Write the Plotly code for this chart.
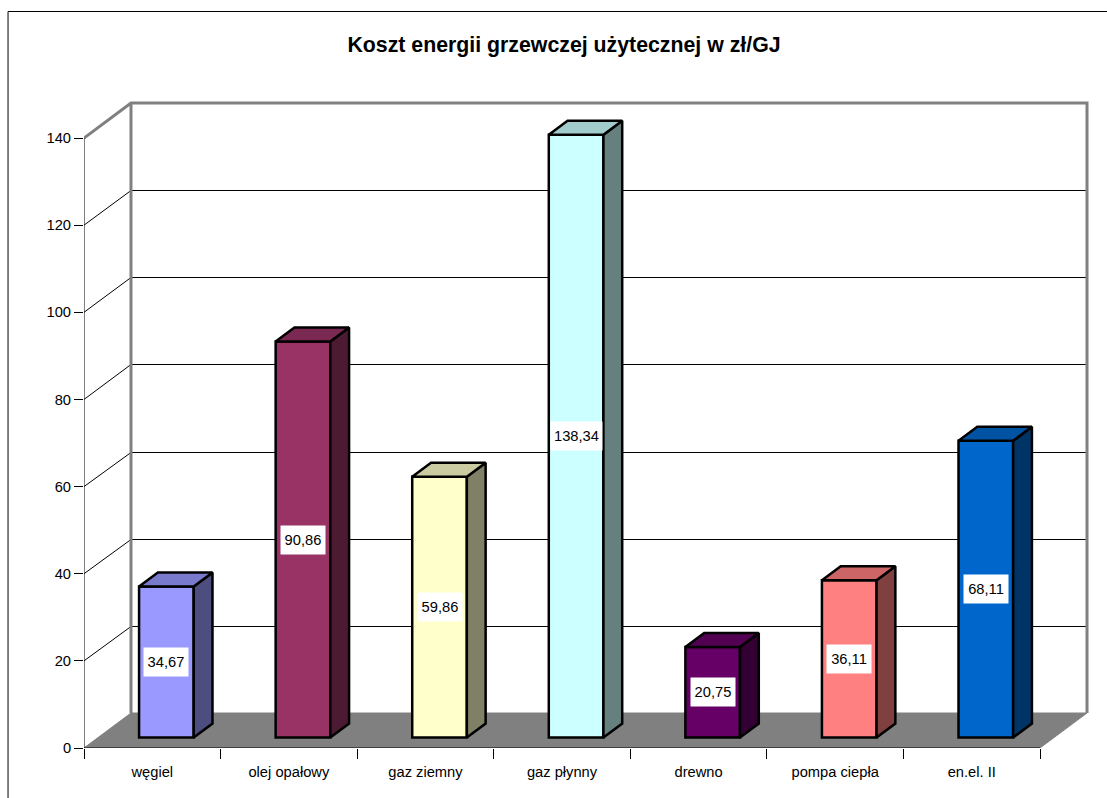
import plotly.graph_objects as go

# Cost data
categories = ["węgiel", "olej opałowy", "gaz ziemny", "gaz płynny", "drewno", "pompa ciepła", "en.el. II"]
values = [34.67, 90.86, 59.86, 138.34, 20.75, 36.11, 68.11]
y_ticks = [0, 20, 40, 60, 80, 100, 120, 140]

# Face colours of each column
front_colors = ["#9999FF", "#993366", "#FFFFCC", "#CCFFFF", "#660066", "#FF8080", "#0066CC"]
side_colors = ["#4D4D80", "#4D1A33", "#808066", "#668080", "#330033", "#804040", "#003366"]
top_colors = ["#7A7ACC", "#7A2952", "#CCCCA3", "#A3CCCC", "#520052", "#CC6666", "#0052A3"]

# Figure layout in pixels; PAD leaves room for the thick wall edges on the top and right
WIDTH, HEIGHT = 1107, 798
LEFT, RIGHT_EDGE = 83.5, 1087
BASELINE, TOP_EDGE = 748, 103
PAD = 5
CAT_PX = 136.6
UNIT_PX = 4.357

# Oblique projection: shift per unit of depth, in axis units
DEPTH_X = 47 / CAT_PX
DEPTH_Y = 35 / UNIT_PX
BAR_WIDTH = 0.4
Z_FRONT, Z_BACK = 0.3, 0.7
GREY = "#808080"
FONT = "Liberation Sans, Arial, sans-serif"
TEXT_SIZE = 14.7


def project(x, y, z):
    return x + z * DEPTH_X, y + z * DEPTH_Y


def polygon(points):
    xs, ys = zip(*(project(*p) for p in points))
    return list(xs) + [xs[0]], list(ys) + [ys[0]]


def snap_y(y):
    # Centre a horizontal hairline on a pixel row so it stays crisp
    row = round(BASELINE - y * UNIT_PX)
    return (BASELINE - (row + 0.5)) / UNIT_PX


n = len(categories)
fig = go.Figure()

# Front faces
fig.add_trace(go.Bar(
    x=[project(i + 0.5, 0, Z_FRONT)[0] for i in range(n)],
    y=values,
    base=[project(0, 0, Z_FRONT)[1]] * n,
    width=BAR_WIDTH,
    marker=dict(color=front_colors, line=dict(color="black", width=2.5)),
    hoverinfo="skip",
))

# Side and top faces
for i, v in enumerate(values):
    x0, x1 = i + 0.5 - BAR_WIDTH / 2, i + 0.5 + BAR_WIDTH / 2
    sx, sy = polygon([(x1, 0, Z_FRONT), (x1, 0, Z_BACK), (x1, v, Z_BACK), (x1, v, Z_FRONT)])
    fig.add_trace(go.Scatter(x=sx, y=sy, mode="lines", fill="toself", fillcolor=side_colors[i],
                             line=dict(color="black", width=2.5), hoverinfo="skip"))
    tx, ty = polygon([(x0, v, Z_FRONT), (x1, v, Z_FRONT), (x1, v, Z_BACK), (x0, v, Z_BACK)])
    fig.add_trace(go.Scatter(x=tx, y=ty, mode="lines", fill="toself", fillcolor=top_colors[i],
                             line=dict(color="black", width=2.5), hoverinfo="skip"))

# Grey edges of the walls
top = y_ticks[-1]
ex, ey = zip(*[project(0, top, 0), project(0, top, 1), project(n, top, 1), project(n, 0, 1)])
fig.add_trace(go.Scatter(x=ex, y=ey, mode="lines", line=dict(color=GREY, width=3),
                         cliponaxis=False, hoverinfo="skip"))
bx, by = zip(*[project(0, top, 1), project(0, 0, 1)])
fig.add_trace(go.Scatter(x=bx, y=by, mode="lines", line=dict(color=GREY, width=3),
                         cliponaxis=False, hoverinfo="skip"))

# Axis lines
fig.add_trace(go.Scatter(x=[0, 0, n], y=[top, 0, 0], mode="lines", line=dict(color="black", width=1),
                         cliponaxis=False, hoverinfo="skip"))

# Floor and gridlines sit behind the columns
shapes = []
fx, fy = polygon([(0, 0, 0), (n, 0, 0), (n, 0, 1), (0, 0, 1)])
path = "M " + " L ".join(f"{a},{b}" for a, b in zip(fx[:-1], fy[:-1])) + " Z"
shapes.append(dict(type="path", path=path, xref="x", yref="y", fillcolor=GREY,
                   line=dict(color=GREY, width=1), layer="below"))
for t in y_ticks[1:-1]:
    (xa, ya), (xb, yb), (xc, yc) = project(0, t, 0), project(0, t, 1), project(n, t, 1)
    row_y = snap_y(yb)
    shapes.append(dict(type="line", xref="x", yref="y", x0=xa, y0=ya, x1=xb, y1=row_y,
                       line=dict(color="black", width=1), layer="below"))
    shapes.append(dict(type="line", xref="x", yref="y", x0=xb, y0=row_y, x1=xc, y1=row_y,
                       line=dict(color="black", width=1), layer="below"))

# Outer frame, open towards the page edges
plot_w = RIGHT_EDGE + PAD - LEFT
plot_h = BASELINE - TOP_EDGE + PAD
def paper_x(px): return (px - LEFT) / plot_w
def paper_y(px): return (BASELINE - px) / plot_h
shapes.append(dict(type="path", xref="paper", yref="paper",
                   path=f"M {paper_x(7.5)},{paper_y(HEIGHT)} L {paper_x(7.5)},{paper_y(11.5)} L {paper_x(WIDTH)},{paper_y(11.5)}",
                   line=dict(color="black", width=1)))

# Value labels on white boxes
annotations = []
for i, v in enumerate(values):
    ax, ay = project(i + 0.5, v / 2, Z_FRONT)
    text = f"{v:.2f}".replace(".", ",")
    annotations.append(dict(x=ax, y=ay, xref="x", yref="y", text=text, showarrow=False,
                            font=dict(family=FONT, size=TEXT_SIZE, color="black"),
                            bgcolor="white", width=44 if v < 100 else 51, height=28,
                            align="center", valign="middle", borderpad=0))

fig.update_layout(
    width=WIDTH, height=HEIGHT, autosize=False,
    margin=dict(l=LEFT, r=WIDTH - RIGHT_EDGE - PAD, t=TOP_EDGE - PAD, b=HEIGHT - BASELINE, pad=0),
    paper_bgcolor="white", plot_bgcolor="white",
    showlegend=False, barmode="overlay",
    font=dict(family=FONT, size=TEXT_SIZE, color="black"),
    title=dict(text="<b>Koszt energii grzewczej użytecznej w zł/GJ</b>",
               font=dict(family=FONT, size=21.3, color="black"),
               x=(347 + 781) / 2 / WIDTH, xanchor="center", y=1 - 45 / HEIGHT, yanchor="middle"),
    shapes=shapes, annotations=annotations,
    xaxis=dict(range=[0, plot_w / CAT_PX * (n + DEPTH_X) / ((RIGHT_EDGE - LEFT) / CAT_PX)],
               showgrid=False, zeroline=False, showline=False,
               tickmode="array", tickvals=[i + 0.5 for i in range(n)], ticktext=categories,
               ticks="outside", ticklen=10, tickcolor="rgba(0,0,0,0)",
               minor=dict(tickmode="array", tickvals=list(range(n + 1)), ticks="outside",
                          ticklen=10, tickcolor="black", tickwidth=1, showgrid=False),
               tickfont=dict(family=FONT, size=TEXT_SIZE, color="black"), fixedrange=True),
    yaxis=dict(range=[0, plot_h / UNIT_PX], showgrid=False, zeroline=False, showline=False,
               tickmode="array", tickvals=y_ticks, ticks="outside", ticklen=9,
               tickcolor="black", tickwidth=1,
               tickfont=dict(family=FONT, size=TEXT_SIZE, color="black"), fixedrange=True),
)

fig.write_html("out.html", config=dict(displayModeBar=False))
